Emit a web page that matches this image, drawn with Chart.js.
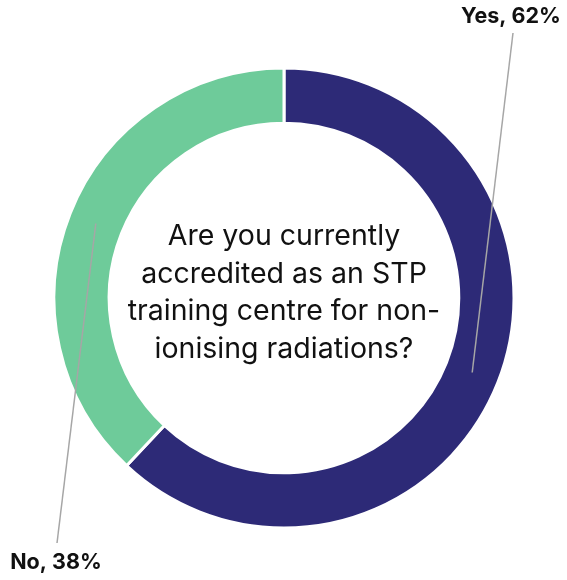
<!DOCTYPE html>
<html>
<head>
<meta charset="utf-8">
<script src="https://cdn.jsdelivr.net/npm/chart.js@4/dist/chart.umd.min.js"></script>
<style>
  html, body { margin: 0; padding: 0; background: #ffffff; }
  #wrap { position: relative; width: 567px; height: 580px; }
</style>
</head>
<body>
<div id="wrap"><canvas id="c" width="567" height="580"></canvas></div>
<script>
const categories = ['Yes', 'No'];
const values = [62, 38];
const colors = ['#2d2a77', '#6ecb9a'];
const centerLines = ['Are you currently', 'accredited as an STP', 'training centre for non-', 'ionising radiations?'];
// label anchor positions (layout only)
const labelPos = [{x: 511, y: 17, lx: 513, ly: 33}, {x: 56, y: 563, lx: 57, ly: 543}];

const annot = {
  id: 'annot',
  afterDatasetsDraw(chart) {
    const ctx = chart.ctx;
    const meta = chart.getDatasetMeta(0);
    ctx.save();
    meta.data.forEach((arc, i) => {
      const p = arc.getProps(['x', 'y', 'startAngle', 'endAngle', 'innerRadius', 'outerRadius'], true);
      const mid = (p.startAngle + p.endAngle) / 2;
      const r = (p.innerRadius + p.outerRadius) / 2;
      const sx = p.x + Math.cos(mid) * r;
      const sy = p.y + Math.sin(mid) * r;
      const lp = labelPos[i];
      ctx.strokeStyle = '#a6a6a6';
      ctx.lineWidth = 1.5;
      ctx.beginPath();
      ctx.moveTo(sx, sy);
      ctx.lineTo(lp.lx, lp.ly);
      ctx.stroke();
      ctx.fillStyle = '#111111';
      ctx.font = '700 21.5px Inter, "Liberation Sans", Arial, sans-serif';
      ctx.textAlign = 'center';
      ctx.textBaseline = 'middle';
      ctx.fillText(categories[i] + ', ' + values[i] + '%', lp.x, lp.y);
    });
    // centre text
    const a = meta.data[0];
    ctx.fillStyle = '#111111';
    ctx.font = '400 28.5px Inter, "Noto Sans", sans-serif';
    ctx.textAlign = 'center';
    ctx.textBaseline = 'middle';
    const lh = 37.5;
    const y0 = a.y - 5 - lh * (centerLines.length - 1) / 2;
    centerLines.forEach((t, i) => ctx.fillText(t, a.x, y0 + i * lh));
    ctx.restore();
  }
};

new Chart(document.getElementById('c'), {
  type: 'doughnut',
  data: {
    labels: categories,
    datasets: [{
      data: values,
      backgroundColor: colors,
      borderColor: '#ffffff',
      borderWidth: 3,
      hoverOffset: 0
    }]
  },
  options: {
    responsive: false,
    animation: false,
    cutout: '76%',
    layout: { padding: { top: 66.5, bottom: 50.5, left: 52.5, right: 51.5 } },
    plugins: { legend: { display: false }, tooltip: { enabled: false } }
  },
  plugins: [annot]
});
</script>
</body>
</html>
